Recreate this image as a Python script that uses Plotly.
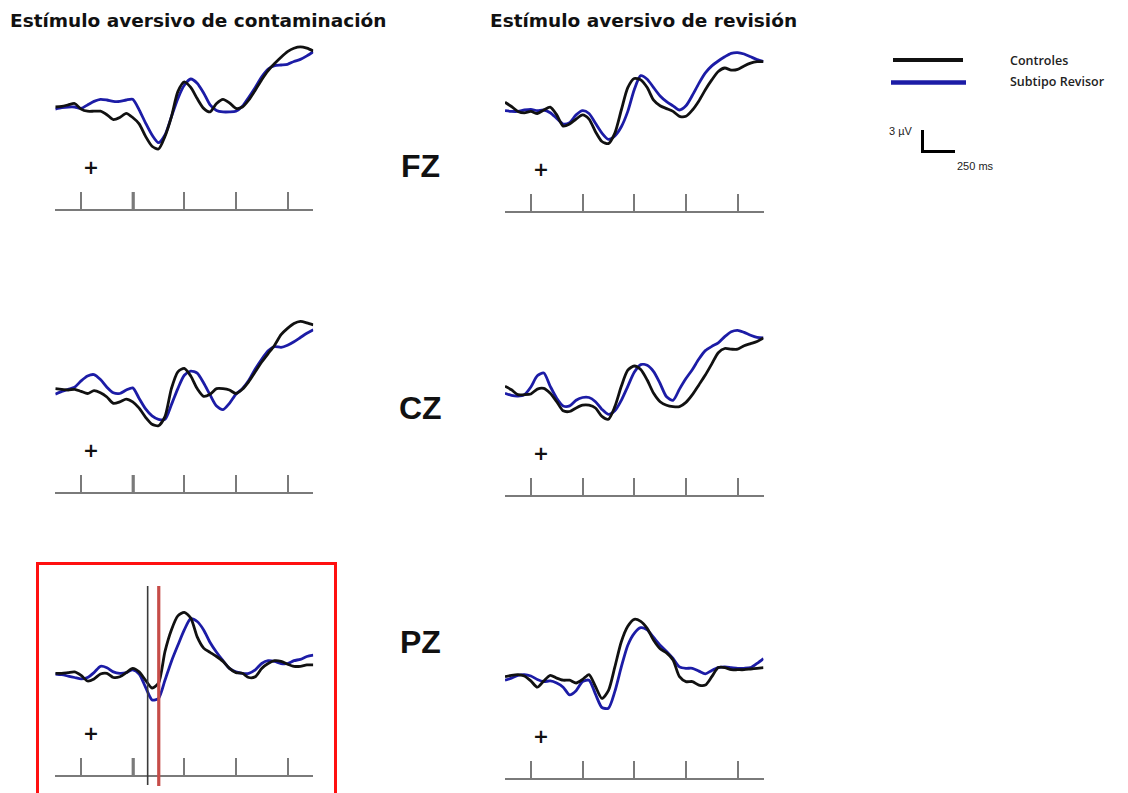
import plotly.graph_objects as go

W, H = 1128, 793

# Sample times (ms) shared by all waveforms
TIME_MS = list(range(-300, 701, 25))
TICK_MS = [-200, 0, 200, 400, 600]

# Grand-average amplitudes (µV, positive plotted downward)
FZ_CONT_CTRL = [0.0, -0.1, -0.3, -0.5, 0.3, 0.6, 0.6, 0.6, 1.1, 1.8, 1.5, 0.9, 1.5, 2.4, 4.2, 5.6, 6.0, 4.2, 1.4, -2.2,
                -3.6, -2.8, -1.2, 0.2, 0.7, -0.5, -1.1, -0.6, 0.2, 0.0, -1.0, -2.4, -3.9, -5.2, -6.2, -7.1, -7.9, -8.4,
                -8.6, -8.4, -8.0]
FZ_CONT_REV = [0.3, 0.1, 0.0, 0.0, 0.2, -0.3, -0.8, -1.1, -1.0, -0.8, -0.8, -1.0, -1.1, 0.4, 2.3, 4.0, 5.1, 4.0, 1.4, -1.2,
               -3.1, -4.0, -3.4, -2.0, -0.3, 0.5, 0.7, 0.7, 0.6, -0.1, -1.4, -2.8, -4.3, -5.4, -5.9, -6.0, -6.1, -6.5,
               -6.8, -7.3, -7.9]
FZ_REV_CTRL = [-1.1, -0.5, 0.2, 0.4, 0.2, 0.5, 0.0, -0.4, 0.7, 2.3, 2.0, 1.3, 0.7, 1.3, 3.1, 4.5, 4.8, 3.3, 0.0, -3.2,
               -4.5, -4.3, -3.2, -1.4, -0.6, -0.2, 0.2, 0.9, 0.9, 0.0, -1.3, -2.9, -4.3, -5.5, -6.0, -5.7, -5.8, -6.3,
               -6.7, -6.9, -6.9]
FZ_REV_REV = [0.1, 0.2, 0.2, 0.0, -0.1, 0.1, 0.0, 0.4, 1.2, 2.0, 1.8, 0.7, 0.1, 0.5, 1.9, 3.3, 4.2, 3.7, 2.4, 0.2,
              -2.9, -4.9, -4.4, -3.2, -2.0, -1.2, -0.6, 0.0, -0.6, -2.1, -3.8, -5.3, -6.3, -7.0, -7.6, -8.1, -8.2, -8.0,
              -7.6, -7.2, -6.9]
CZ_CONT_CTRL = [-0.2, -0.1, 0.0, -0.1, 0.2, 0.5, 0.1, 0.4, 1.0, 1.9, 1.7, 1.3, 1.7, 2.6, 3.9, 4.9, 5.1, 3.8, -0.2, -2.6,
                -3.1, -2.0, -0.2, 0.9, 0.6, -0.2, -0.2, 0.0, 0.5, -0.1, -1.2, -2.6, -4.0, -5.2, -6.4, -7.9, -8.8, -9.5,
                -9.8, -9.6, -9.3]
CZ_CONT_REV = [0.6, 0.2, -0.1, -0.4, -1.3, -2.0, -2.2, -1.5, -0.4, 0.4, 0.5, 0.0, -0.3, 1.2, 2.7, 3.7, 4.2, 4.2, 2.1, -0.2,
               -2.1, -2.7, -2.4, -1.0, 0.7, 2.3, 2.8, 1.9, 0.6, -0.2, -1.4, -3.0, -4.4, -5.6, -6.2, -6.1, -6.4, -6.9,
               -7.5, -8.1, -8.6]
CZ_REV_CTRL = [-1.0, -0.5, 0.2, 0.2, 0.1, -0.6, -0.7, 0.0, 1.2, 2.5, 2.6, 2.1, 1.7, 1.7, 2.1, 3.3, 3.7, 1.9, -1.0, -3.3,
               -3.9, -3.4, -1.9, 0.0, 1.2, 1.7, 1.9, 1.9, 1.3, 0.2, -1.2, -2.6, -4.2, -5.8, -6.4, -6.3, -6.3, -6.8, -7.1,
               -7.4, -7.9]
CZ_REV_REV = [0.0, 0.3, 0.4, 0.2, -0.9, -2.5, -2.9, -1.0, 0.7, 1.8, 1.8, 1.0, 0.6, 0.6, 1.2, 2.3, 3.0, 2.5, 1.0, -1.0,
              -3.0, -4.1, -4.0, -3.1, -1.4, 0.5, 1.0, -0.6, -2.1, -3.4, -4.9, -6.1, -6.7, -7.2, -8.1, -8.8, -9.0, -8.7,
              -8.3, -8.0, -7.9]
PZ_CONT_CTRL = [0.0, 0.0, -0.1, -0.2, 0.3, 1.1, 0.8, 0.1, 0.0, 0.6, 0.5, -0.1, -0.7, -0.2, 1.0, 2.1, 1.4, -3.1, -6.2, -8.2,
                -8.7, -7.9, -5.2, -3.6, -3.0, -2.4, -1.7, -0.7, -0.1, 0.0, 0.6, 0.5, -0.7, -1.4, -1.8, -1.7, -1.3, -1.0,
                -1.0, -1.2, -1.2]
PZ_CONT_REV = [0.1, 0.2, 0.4, 0.6, 0.8, 0.6, -0.1, -1.0, -0.8, -0.2, 0.0, -0.1, -0.5, 0.1, 2.0, 3.8, 3.6, 1.0, -1.7, -4.0,
               -6.2, -7.8, -7.4, -6.2, -4.4, -3.0, -1.8, -0.7, -0.2, 0.0, 0.0, -0.5, -1.4, -1.8, -1.7, -1.4, -1.4, -1.8,
               -2.0, -2.4, -2.6]
PZ_REV_CTRL = [0.0, -0.2, -0.3, -0.1, 0.6, 1.5, 0.6, -0.2, 0.2, 0.5, 0.5, 0.9, 0.4, -0.3, 1.4, 3.1, 2.0, -1.4, -5.0, -7.2,
               -8.2, -7.9, -6.9, -5.2, -4.0, -3.4, -2.4, 0.0, 0.7, 0.7, 1.2, 1.2, 0.0, -1.3, -1.3, -1.0, -1.0, -1.0, -1.1,
               -1.2, -1.3]
PZ_REV_REV = [0.5, 0.2, -0.2, -0.3, -0.1, 0.4, 0.7, 0.6, 0.9, 1.5, 2.6, 2.0, 0.7, 0.5, 2.5, 4.4, 4.5, 2.1, -1.4, -4.5,
              -6.2, -7.0, -6.7, -5.6, -4.5, -3.6, -2.6, -1.4, -1.2, -1.2, -0.8, -0.4, -0.9, -1.3, -1.4, -1.3, -1.2, -1.2,
              -1.3, -1.9, -2.6]

# Latency markers on the PZ contamination panel (ms)
PZ_CONT_MARKERS_MS = [58, 101]

COL_TITLES = ["Estímulo aversivo de contaminación", "Estímulo aversivo de revisión"]
ELECTRODES = ["FZ", "CZ", "PZ"]
GROUPS = ["Controles", "Subtipo Revisor"]
SCALE_LABELS = ["3 µV", "250 ms"]

BLACK = "#111111"
BLUE = "#1c1ca6"
AXIS_GRAY = "#7a7a7a"
PX_PER_UV = 7.0

# Panel frames in pixels: left/right edges of the time axis, baseline row, zero-µV row
PANELS = [
    dict(x0=55.3, x1=313.3, base=209.0, zero=107.0, ctrl=FZ_CONT_CTRL, rev=FZ_CONT_REV, onset=True),
    dict(x0=505.0, x1=763.5, base=211.0, zero=110.0, ctrl=FZ_REV_CTRL, rev=FZ_REV_REV, onset=False),
    dict(x0=55.3, x1=313.3, base=492.0, zero=390.0, ctrl=CZ_CONT_CTRL, rev=CZ_CONT_REV, onset=True),
    dict(x0=505.0, x1=763.5, base=495.0, zero=393.3, ctrl=CZ_REV_CTRL, rev=CZ_REV_REV, onset=False),
    dict(x0=55.3, x1=313.3, base=775.0, zero=673.3, ctrl=PZ_CONT_CTRL, rev=PZ_CONT_REV, onset=True),
    dict(x0=505.0, x1=763.5, base=778.0, zero=676.7, ctrl=PZ_REV_CTRL, rev=PZ_REV_REV, onset=False),
]
PANEL_HEIGHT = 185.0


def px(x):
    return x / W


def py(y):
    return 1 - y / H


fig = go.Figure()
shapes = []
annotations = []

for i, p in enumerate(PANELS, start=1):
    xa = "x" if i == 1 else f"x{i}"
    ya = "y" if i == 1 else f"y{i}"
    top = p["base"] - PANEL_HEIGHT
    y_bottom_val = (p["base"] - p["zero"]) / PX_PER_UV
    y_top_val = (top - p["zero"]) / PX_PER_UV

    for values, color in ((p["rev"], BLUE), (p["ctrl"], BLACK)):
        fig.add_trace(go.Scatter(
            x=TIME_MS, y=values, mode="lines", xaxis=xa, yaxis=ya,
            line=dict(color=color, width=2.8, shape="spline", smoothing=0.7),
            showlegend=False, hoverinfo="skip",
        ))

    fig.layout[f"xaxis{'' if i == 1 else i}"] = dict(
        domain=[px(p["x0"]), px(p["x1"])], range=[-300, 700], anchor=ya,
        showline=True, linecolor=AXIS_GRAY, linewidth=1.6,
        ticks="inside", tickvals=TICK_MS, ticklen=17, tickwidth=1.6, tickcolor=AXIS_GRAY,
        showticklabels=False, showgrid=False, zeroline=False, fixedrange=True,
    )
    fig.layout[f"yaxis{'' if i == 1 else i}"] = dict(
        domain=[py(p["base"]), py(top)], range=[y_bottom_val, y_top_val], anchor=xa,
        visible=False, showgrid=False, zeroline=False, fixedrange=True,
    )

    # stimulus-onset tick drawn heavier
    if p["onset"]:
        shapes.append(dict(type="line", xref=xa, yref=f"{ya} domain", x0=2, x1=2, y0=0, y1=17 / PANEL_HEIGHT,
                           line=dict(color=AXIS_GRAY, width=3.2)))

    # polarity mark
    plus_x = p["x0"] + (140 / 1000) * (p["x1"] - p["x0"])
    annotations.append(dict(x=px(plus_x), y=py(p["base"] - 42), xref="paper", yref="paper", text="<b>+</b>",
                            showarrow=False, font=dict(family="DejaVu Sans", size=19, color=BLACK),
                            xanchor="center", yanchor="middle"))

# latency markers on PZ / contamination
shapes.append(dict(type="line", xref="x5", yref="paper", x0=PZ_CONT_MARKERS_MS[0], x1=PZ_CONT_MARKERS_MS[0],
                   y0=py(785), y1=py(586), line=dict(color="#3a3a3a", width=1.6)))
shapes.append(dict(type="line", xref="x5", yref="paper", x0=PZ_CONT_MARKERS_MS[1], x1=PZ_CONT_MARKERS_MS[1],
                   y0=py(786), y1=py(586), line=dict(color="#c64c48", width=3.2)))

# highlight frame around PZ / contamination
shapes.append(dict(type="rect", xref="paper", yref="paper", x0=px(37.5), x1=px(335.5), y0=py(797), y1=py(563.5),
                   line=dict(color="#ff1010", width=3)))

# legend swatches
shapes.append(dict(type="line", xref="paper", yref="paper", x0=px(893), x1=px(963), y0=py(60), y1=py(60),
                   line=dict(color=BLACK, width=4)))
shapes.append(dict(type="line", xref="paper", yref="paper", x0=px(891), x1=px(966), y0=py(82.5), y1=py(82.5),
                   line=dict(color=BLUE, width=4.5)))

# calibration bar
shapes.append(dict(type="path", xref="paper", yref="paper",
                   path=f"M {px(922.5)} {py(130)} L {px(922.5)} {py(151.5)} L {px(955)} {py(151.5)}",
                   line=dict(color="#000000", width=3)))

for text, x in zip(COL_TITLES, (8, 488)):
    annotations.append(dict(x=px(x), y=py(21), xref="paper", yref="paper", text=f"<b>{text}</b>",
                            showarrow=False, xanchor="left", yanchor="middle",
                            font=dict(family="DejaVu Sans", size=18.5, color="#111111")))

for text, y in zip(ELECTRODES, (166, 408, 642)):
    annotations.append(dict(x=px(420), y=py(y), xref="paper", yref="paper", text=f"<b>{text}</b>",
                            showarrow=False, xanchor="center", yanchor="middle",
                            font=dict(family="Liberation Sans", size=32, color="#111111")))

for text, y in zip(GROUPS, (60, 81)):
    annotations.append(dict(x=px(1008), y=py(y), xref="paper", yref="paper", text=text,
                            showarrow=False, xanchor="left", yanchor="middle",
                            font=dict(family="Open Sans", size=12.5, color="#222222", weight=600)))

annotations.append(dict(x=px(901), y=py(131), xref="paper", yref="paper", text=SCALE_LABELS[0],
                        showarrow=False, xanchor="center", yanchor="middle",
                        font=dict(family="Liberation Sans Narrow, Liberation Sans", size=11, color="#222222")))
annotations.append(dict(x=px(975), y=py(166), xref="paper", yref="paper", text=SCALE_LABELS[1],
                        showarrow=False, xanchor="center", yanchor="middle",
                        font=dict(family="Liberation Sans Narrow, Liberation Sans", size=11, color="#222222")))

fig.update_layout(
    width=W, height=H, margin=dict(l=0, r=0, t=0, b=0),
    paper_bgcolor="white", plot_bgcolor="white",
    shapes=shapes, annotations=annotations, showlegend=False,
)

fig.write_html("out.html", config={"displayModeBar": False})
